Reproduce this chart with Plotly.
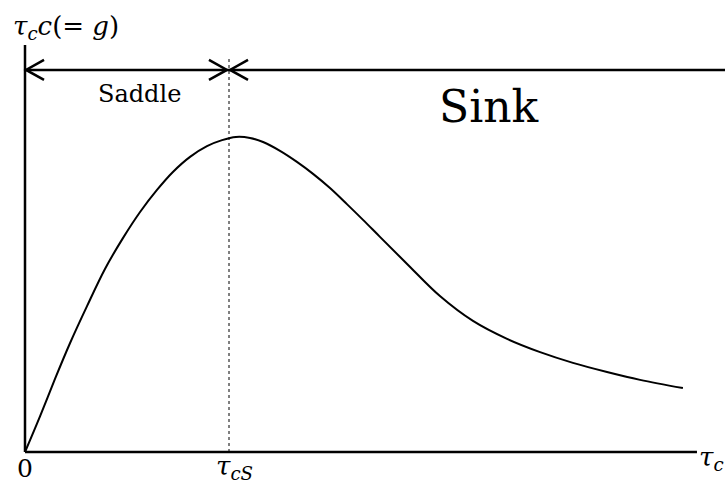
import plotly.graph_objects as go

# Curve g = tau_c * c as a function of tau_c (arbitrary units, tau_cS = 1, peak g = 1)
tau_c = [0.0, 0.074, 0.147, 0.221, 0.304, 0.392, 0.480, 0.564, 0.647, 0.725,
         0.809, 0.892, 0.966, 1.034, 1.103, 1.167, 1.250, 1.333, 1.412, 1.495,
         1.578, 1.657, 1.740, 1.873, 2.034, 2.196, 2.363, 2.525, 2.686, 2.853,
         3.015, 3.225]
g = [0.0, 0.114, 0.232, 0.346, 0.463, 0.581, 0.679, 0.762, 0.832, 0.889,
     0.937, 0.971, 0.990, 1.0, 0.997, 0.984, 0.956, 0.921, 0.883, 0.838,
     0.787, 0.737, 0.683, 0.597, 0.495, 0.416, 0.359, 0.317, 0.283, 0.254,
     0.229, 0.203]

tau_cS = 1.0          # saddle / sink boundary
x_axis_end = 3.294    # length of the horizontal axis
y_axis_end = 1.292    # height of the vertical axis
region_y = 1.213      # level of the region arrows
boundary_top = 1.251  # top of the dotted boundary line

W, H = 725, 483
X0_PX, Y0_PX = 25, 452   # pixel position of the origin
PX_X = 204.0             # pixels per tau unit
PX_Y = 315.0             # pixels per g unit
x_lo, x_hi = -X0_PX / PX_X, (W - X0_PX) / PX_X
y_lo, y_hi = -(H - Y0_PX) / PX_Y, Y0_PX / PX_Y

FONT = "DejaVu Serif"

fig = go.Figure()
fig.add_trace(go.Scatter(
    x=tau_c, y=g, mode="lines",
    line=dict(color="black", width=2, shape="spline", smoothing=1.0),
    hoverinfo="skip", showlegend=False,
))

shapes = []
# axes
shapes.append(dict(type="line", x0=0, y0=0, x1=0, y1=y_axis_end,
                   line=dict(color="black", width=2.5)))
shapes.append(dict(type="line", x0=0, y0=0, x1=x_axis_end, y1=0,
                   line=dict(color="black", width=2.5)))
# dotted boundary at tau_cS
shapes.append(dict(type="line", x0=tau_cS, y0=0, x1=tau_cS, y1=boundary_top,
                   line=dict(color="black", width=1, dash="dot")))
# region arrow line
shapes.append(dict(type="line", x0=0, y0=region_y, x1=x_hi, y1=region_y,
                   line=dict(color="black", width=2.5)))


def head(tip_x, direction, arm_px=18, half_px=10):
    """Open V arrowhead; direction -1 points left, +1 points right."""
    bx = tip_x - direction * arm_px / PX_X
    dy = half_px / PX_Y
    path = f"M {bx},{region_y + dy} L {tip_x},{region_y} L {bx},{region_y - dy}"
    return dict(type="path", path=path, line=dict(color="black", width=2.5))


shapes.append(head(0.005, -1))
shapes.append(head(tau_cS - 0.01, +1))
shapes.append(head(tau_cS + 0.005, -1))


def label(px, py, text, size):
    return dict(x=(px - X0_PX) / PX_X, y=(Y0_PX - py) / PX_Y, text=text,
                showarrow=False, font=dict(family=FONT, size=size, color="black"),
                xanchor="center", yanchor="middle")


ann = [
    label(489, 106, "Sink", 44),
    label(139, 94, "Saddle", 24),
    label(24.5, 468, "0", 25),
    label(234, 467, "<i>τ<sub>cS</sub></i>", 26),
    label(711, 458, "<i>τ<sub>c</sub></i>", 26),
    label(66, 27, "<i>τ<sub>c</sub>c</i>(= <i>g</i>)", 26),
]

fig.update_layout(
    width=W, height=H,
    margin=dict(l=0, r=0, t=0, b=0, pad=0),
    paper_bgcolor="white", plot_bgcolor="white",
    xaxis=dict(range=[x_lo, x_hi], visible=False, fixedrange=True),
    yaxis=dict(range=[y_lo, y_hi], visible=False, fixedrange=True),
    shapes=shapes, annotations=ann,
    showlegend=False,
)

fig.write_html("out.html", config={"displayModeBar": False})
